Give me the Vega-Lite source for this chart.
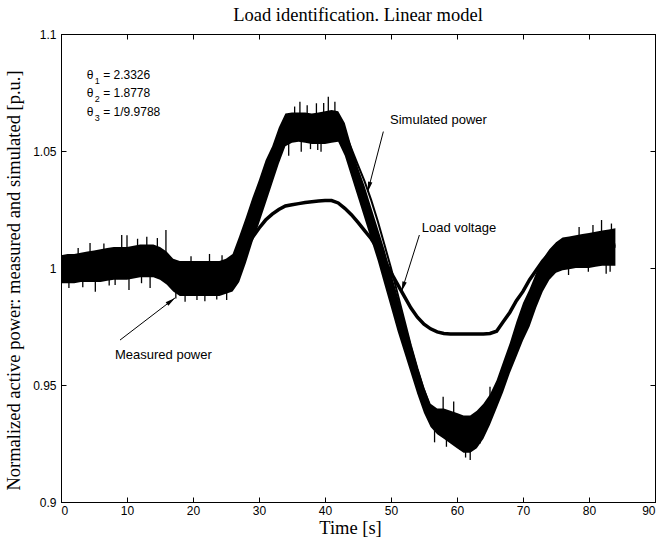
{
  "$schema": "https://vega.github.io/schema/vega-lite/v6.json",
  "width": 594,
  "height": 468,
  "autosize": "none",
  "padding": {"left": 61, "top": 34, "right": 10, "bottom": 38},
  "background": "white",
  "title": {"text": "Load identification. Linear model", "font": "Liberation Serif", "fontSize": 18.5, "fontWeight": "normal", "color": "black", "baseline": "alphabetic", "offset": 11, "dy": 22},
  "datasets": {
    "main": [
      {"t":0,"lo":0.9935,"hi":1.0055,"sim":1.000,"volt":1.000},
      {"t":1,"lo":0.9935,"hi":1.006,"sim":1.000,"volt":1.000},
      {"t":2,"lo":0.9935,"hi":1.006,"sim":1.000,"volt":1.000},
      {"t":3,"lo":0.994,"hi":1.0065,"sim":1.000,"volt":1.000},
      {"t":4,"lo":0.994,"hi":1.007,"sim":1.0005,"volt":1.0003},
      {"t":5,"lo":0.994,"hi":1.0075,"sim":1.001,"volt":1.0005},
      {"t":6,"lo":0.994,"hi":1.008,"sim":1.001,"volt":1.001},
      {"t":7,"lo":0.9945,"hi":1.0085,"sim":1.0015,"volt":1.001},
      {"t":8,"lo":0.995,"hi":1.009,"sim":1.002,"volt":1.0015},
      {"t":9,"lo":0.995,"hi":1.009,"sim":1.002,"volt":1.0015},
      {"t":10,"lo":0.995,"hi":1.009,"sim":1.002,"volt":1.002},
      {"t":11,"lo":0.9955,"hi":1.0095,"sim":1.0025,"volt":1.002},
      {"t":12,"lo":0.996,"hi":1.010,"sim":1.003,"volt":1.002},
      {"t":13,"lo":0.996,"hi":1.010,"sim":1.003,"volt":1.002},
      {"t":14,"lo":0.996,"hi":1.010,"sim":1.003,"volt":1.002},
      {"t":15,"lo":0.995,"hi":1.009,"sim":1.002,"volt":1.0015},
      {"t":16,"lo":0.993,"hi":1.007,"sim":1.000,"volt":1.000},
      {"t":17,"lo":0.990,"hi":1.004,"sim":0.997,"volt":0.998},
      {"t":18,"lo":0.988,"hi":1.003,"sim":0.9955,"volt":0.997},
      {"t":19,"lo":0.988,"hi":1.003,"sim":0.9955,"volt":0.997},
      {"t":20,"lo":0.988,"hi":1.003,"sim":0.9955,"volt":0.997},
      {"t":21,"lo":0.988,"hi":1.003,"sim":0.9955,"volt":0.997},
      {"t":22,"lo":0.988,"hi":1.003,"sim":0.9955,"volt":0.997},
      {"t":23,"lo":0.988,"hi":1.003,"sim":0.9955,"volt":0.997},
      {"t":24,"lo":0.988,"hi":1.003,"sim":0.9955,"volt":0.997},
      {"t":25,"lo":0.989,"hi":1.004,"sim":0.9965,"volt":0.998},
      {"t":26,"lo":0.990,"hi":1.006,"sim":0.998,"volt":1.000},
      {"t":27,"lo":0.994,"hi":1.0136,"sim":1.004,"volt":1.004},
      {"t":28,"lo":1.002,"hi":1.0216,"sim":1.012,"volt":1.0085},
      {"t":29,"lo":1.011,"hi":1.030,"sim":1.0205,"volt":1.013},
      {"t":30,"lo":1.019,"hi":1.0377,"sim":1.0285,"volt":1.017},
      {"t":31,"lo":1.0275,"hi":1.046,"sim":1.037,"volt":1.0205},
      {"t":32,"lo":1.036,"hi":1.052,"sim":1.044,"volt":1.023},
      {"t":33,"lo":1.0445,"hi":1.060,"sim":1.052,"volt":1.025},
      {"t":34,"lo":1.052,"hi":1.066,"sim":1.058,"volt":1.0265},
      {"t":35,"lo":1.0535,"hi":1.0665,"sim":1.060,"volt":1.027},
      {"t":36,"lo":1.054,"hi":1.0665,"sim":1.060,"volt":1.0275},
      {"t":37,"lo":1.0535,"hi":1.0665,"sim":1.060,"volt":1.028},
      {"t":38,"lo":1.053,"hi":1.066,"sim":1.0595,"volt":1.0283},
      {"t":39,"lo":1.053,"hi":1.0665,"sim":1.060,"volt":1.0286},
      {"t":40,"lo":1.053,"hi":1.067,"sim":1.060,"volt":1.0288},
      {"t":41,"lo":1.0535,"hi":1.0675,"sim":1.0605,"volt":1.0288},
      {"t":42,"lo":1.054,"hi":1.067,"sim":1.063,"volt":1.0278},
      {"t":43,"lo":1.048,"hi":1.062,"sim":1.058,"volt":1.0255},
      {"t":44,"lo":1.039,"hi":1.052,"sim":1.051,"volt":1.0228},
      {"t":45,"lo":1.030,"hi":1.043,"sim":1.044,"volt":1.0195},
      {"t":46,"lo":1.021,"hi":1.035,"sim":1.037,"volt":1.016},
      {"t":47,"lo":1.012,"hi":1.026,"sim":1.029,"volt":1.0125},
      {"t":48,"lo":1.003,"hi":1.017,"sim":1.020,"volt":1.008},
      {"t":49,"lo":0.993,"hi":1.008,"sim":1.010,"volt":1.0035},
      {"t":50,"lo":0.983,"hi":0.998,"sim":1.000,"volt":0.998},
      {"t":51,"lo":0.973,"hi":0.988,"sim":0.989,"volt":0.993},
      {"t":52,"lo":0.964,"hi":0.978,"sim":0.978,"volt":0.988},
      {"t":53,"lo":0.955,"hi":0.968,"sim":0.967,"volt":0.983},
      {"t":54,"lo":0.946,"hi":0.958,"sim":0.957,"volt":0.979},
      {"t":55,"lo":0.938,"hi":0.949,"sim":0.948,"volt":0.976},
      {"t":56,"lo":0.932,"hi":0.942,"sim":0.940,"volt":0.974},
      {"t":57,"lo":0.929,"hi":0.940,"sim":0.9355,"volt":0.9727},
      {"t":58,"lo":0.927,"hi":0.940,"sim":0.9335,"volt":0.972},
      {"t":59,"lo":0.925,"hi":0.939,"sim":0.932,"volt":0.9718},
      {"t":60,"lo":0.923,"hi":0.938,"sim":0.9305,"volt":0.9718},
      {"t":61,"lo":0.921,"hi":0.937,"sim":0.929,"volt":0.9718},
      {"t":62,"lo":0.921,"hi":0.937,"sim":0.929,"volt":0.9718},
      {"t":63,"lo":0.923,"hi":0.939,"sim":0.931,"volt":0.9718},
      {"t":64,"lo":0.927,"hi":0.942,"sim":0.9345,"volt":0.9718},
      {"t":65,"lo":0.933,"hi":0.946,"sim":0.9395,"volt":0.972},
      {"t":66,"lo":0.940,"hi":0.952,"sim":0.946,"volt":0.973},
      {"t":67,"lo":0.947,"hi":0.960,"sim":0.9535,"volt":0.977},
      {"t":68,"lo":0.955,"hi":0.968,"sim":0.9615,"volt":0.981},
      {"t":69,"lo":0.962,"hi":0.977,"sim":0.9695,"volt":0.986},
      {"t":70,"lo":0.969,"hi":0.985,"sim":0.977,"volt":0.990},
      {"t":71,"lo":0.975,"hi":0.991,"sim":0.983,"volt":0.995},
      {"t":72,"lo":0.983,"hi":0.998,"sim":0.9905,"volt":0.999},
      {"t":73,"lo":0.990,"hi":1.004,"sim":0.997,"volt":1.003},
      {"t":74,"lo":0.995,"hi":1.008,"sim":1.0015,"volt":1.006},
      {"t":75,"lo":0.998,"hi":1.011,"sim":1.0045,"volt":1.007},
      {"t":76,"lo":0.999,"hi":1.013,"sim":1.006,"volt":1.008},
      {"t":77,"lo":0.9995,"hi":1.0135,"sim":1.0065,"volt":1.008},
      {"t":78,"lo":1.000,"hi":1.014,"sim":1.007,"volt":1.0085},
      {"t":79,"lo":1.000,"hi":1.0145,"sim":1.007,"volt":1.009},
      {"t":80,"lo":1.000,"hi":1.015,"sim":1.0075,"volt":1.009},
      {"t":81,"lo":1.0005,"hi":1.0155,"sim":1.008,"volt":1.009},
      {"t":82,"lo":1.001,"hi":1.016,"sim":1.0085,"volt":1.0095},
      {"t":83,"lo":1.001,"hi":1.0165,"sim":1.009,"volt":1.0095},
      {"t":84,"lo":1.001,"hi":1.017,"sim":1.009,"volt":1.010}
    ],
    "spikes": [
      {"t":1.2,"a":0.9915,"b":1.0},{"t":2.6,"a":1.0085,"b":1.0},{"t":3.3,"a":0.9918,"b":1.0},
      {"t":4.4,"a":1.0107,"b":1.0},{"t":5.2,"a":0.9899,"b":1.0},{"t":6.5,"a":1.0105,"b":1.001},
      {"t":7.3,"a":0.9925,"b":1.001},{"t":8.2,"a":0.9927,"b":1.002},
      {"t":9.2,"a":1.0141,"b":1.002},{"t":10,"a":1.014,"b":1.002},{"t":10.3,"a":0.9906,"b":1.002},
      {"t":11.6,"a":1.0125,"b":1.003},{"t":12.2,"a":0.9935,"b":1.003},
      {"t":13,"a":1.0134,"b":1.003},{"t":13.5,"a":0.9915,"b":1.003},{"t":14.6,"a":1.0128,"b":1.003},
      {"t":15.9,"a":1.0162,"b":1.002},{"t":17.4,"a":0.987,"b":0.997},
      {"t":18.8,"a":0.9856,"b":0.9955},{"t":19.7,"a":1.005,"b":0.9955},{"t":20.6,"a":0.9863,"b":0.9955},
      {"t":21.8,"a":0.9858,"b":0.9955},{"t":22.5,"a":1.006,"b":0.9955},{"t":23.6,"a":0.9865,"b":0.9955},
      {"t":24.4,"a":1.0055,"b":0.9955},{"t":25.1,"a":0.9863,"b":0.997},
      {"t":36.2,"a":1.0711,"b":1.06},{"t":40.5,"a":1.0732,"b":1.06},{"t":41.5,"a":1.0711,"b":1.06},
      {"t":38.7,"a":1.0704,"b":1.06},{"t":37.3,"a":1.0695,"b":1.06},{"t":36.4,"a":1.0497,"b":1.06},
      {"t":38.9,"a":1.0504,"b":1.06},{"t":39.4,"a":1.0497,"b":1.06},{"t":34.5,"a":1.048,"b":1.058},
      {"t":35.4,"a":1.069,"b":1.06},{"t":39.8,"a":1.0705,"b":1.06},{"t":37.8,"a":1.0508,"b":1.06},
      {"t":62,"a":0.918,"b":0.929},{"t":60.5,"a":0.9222,"b":0.93},{"t":58.4,"a":0.9236,"b":0.933},
      {"t":63.5,"a":0.925,"b":0.932},{"t":61.3,"a":0.919,"b":0.929},{"t":65,"a":0.9493,"b":0.94},
      {"t":57.9,"a":0.945,"b":0.934},{"t":59.5,"a":0.943,"b":0.932},{"t":56.6,"a":0.9255,"b":0.936},
      {"t":81.9,"a":1.0205,"b":1.008},{"t":83.4,"a":1.019,"b":1.009},{"t":80.6,"a":1.0184,"b":1.0075},
      {"t":79.9,"a":0.9984,"b":1.0075},{"t":83.2,"a":0.9984,"b":1.009},{"t":76.9,"a":0.997,"b":1.006},
      {"t":78.5,"a":1.0175,"b":1.007},{"t":82.6,"a":0.9975,"b":1.008}
    ],
    "arrows": [
      {"t":8.94,"v":0.9692,"t2":17.27,"v2":0.9872,"ang":52.8},
      {"t":48.84,"v":1.0583,"t2":46.47,"v2":1.0326,"ang":194.6},
      {"t":54.3,"v":1.0141,"t2":51.6,"v2":0.990,"ang":197.7}
    ],
    "labels": [
      {"t":49.85,"v":1.0632,"label":"Simulated power"},
      {"t":54.65,"v":1.0172,"label":"Load voltage"},
      {"t":8.18,"v":0.9628,"label":"Measured power"}
    ],
    "theta": [
      {"t":3.89,"v":1.0825,"sub":"1","rest":"= 2.3326"},
      {"t":3.89,"v":1.0747,"sub":"2","rest":"= 1.8778"},
      {"t":3.89,"v":1.0668,"sub":"3","rest":"= 1/9.9788"}
    ]
  },
  "layer": [
    {
      "layer": [
        {
          "data": {"name": "main"},
          "mark": {"type": "area", "color": "black", "opacity": 1},
          "encoding": {
            "x": {"field": "t", "type": "quantitative", "scale": {"domain": [0, 90], "nice": false}, "axis": {"title": "Time [s]", "values": [0,10,20,30,40,50,60,70,80,90], "labelPadding": 8, "titleBaseline": "alphabetic", "titleY": 31, "titleX": 289}},
            "y": {"field": "lo", "type": "quantitative", "scale": {"domain": [0.9, 1.1], "nice": false, "zero": false}, "axis": {"title": "Normalized active power: measured and simulated [p.u.]", "values": [0.9,0.95,1,1.05,1.1], "format": "~g", "labelPadding": 10, "titleX": -48, "titleY": 246, "titleBaseline": "middle"}},
            "y2": {"field": "hi"}
          }
        },
        {
          "data": {"name": "main"},
          "mark": {"type": "line", "color": "black", "strokeWidth": 2},
          "encoding": {
            "x": {"field": "t", "type": "quantitative"},
            "y": {"field": "sim", "type": "quantitative"}
          }
        },
        {
          "data": {"name": "main"},
          "mark": {"type": "line", "color": "black", "strokeWidth": 3.5},
          "encoding": {
            "x": {"field": "t", "type": "quantitative"},
            "y": {"field": "volt", "type": "quantitative"}
          }
        },
        {
          "data": {"name": "spikes"},
          "mark": {"type": "rule", "color": "black", "strokeWidth": 1.3},
          "encoding": {
            "x": {"field": "t", "type": "quantitative"},
            "y": {"field": "a", "type": "quantitative"},
            "y2": {"field": "b"}
          }
        },
        {
          "data": {"name": "arrows"},
          "mark": {"type": "rule", "color": "black", "strokeWidth": 1},
          "encoding": {
            "x": {"field": "t", "type": "quantitative"},
            "y": {"field": "v", "type": "quantitative"},
            "x2": {"field": "t2"},
            "y2": {"field": "v2"}
          }
        },
        {
          "data": {"name": "arrows"},
          "mark": {"type": "point", "shape": "M0,0L-0.45,2L0.45,2Z", "filled": true, "color": "black", "opacity": 1, "size": 100},
          "encoding": {
            "x": {"field": "t2", "type": "quantitative"},
            "y": {"field": "v2", "type": "quantitative"},
            "angle": {"field": "ang", "type": "quantitative", "scale": null}
          }
        },
        {
          "data": {"name": "labels"},
          "mark": {"type": "text", "align": "left", "baseline": "middle", "font": "Liberation Sans", "fontSize": 13, "color": "black"},
          "encoding": {
            "x": {"field": "t", "type": "quantitative"},
            "y": {"field": "v", "type": "quantitative"},
            "text": {"field": "label"}
          }
        },
        {
          "data": {"name": "theta"},
          "mark": {"type": "text", "align": "left", "baseline": "middle", "font": "Liberation Sans", "fontSize": 12, "color": "black", "text": "θ"},
          "encoding": {
            "x": {"field": "t", "type": "quantitative"},
            "y": {"field": "v", "type": "quantitative"}
          }
        },
        {
          "data": {"name": "theta"},
          "mark": {"type": "text", "align": "left", "baseline": "middle", "font": "Liberation Sans", "fontSize": 9, "color": "black", "dx": 8, "dy": 6},
          "encoding": {
            "x": {"field": "t", "type": "quantitative"},
            "y": {"field": "v", "type": "quantitative"},
            "text": {"field": "sub"}
          }
        },
        {
          "data": {"name": "theta"},
          "mark": {"type": "text", "align": "left", "baseline": "middle", "font": "Liberation Sans", "fontSize": 12, "color": "black", "dx": 16.5},
          "encoding": {
            "x": {"field": "t", "type": "quantitative"},
            "y": {"field": "v", "type": "quantitative"},
            "text": {"field": "rest"}
          }
        }
      ]
    },
    {
      "data": {"name": "main"},
      "mark": {"type": "point", "opacity": 0},
      "encoding": {
        "x": {"field": "t", "type": "quantitative", "scale": {"domain": [0, 90], "nice": false}, "axis": {"orient": "top", "labels": false, "title": null, "values": [0,10,20,30,40,50,60,70,80,90]}},
        "y": {"field": "lo", "type": "quantitative", "scale": {"domain": [0.9, 1.1], "nice": false, "zero": false}, "axis": {"orient": "right", "labels": false, "title": null, "values": [0.9,0.95,1,1.05,1.1]}}
      }
    }
  ],
  "resolve": {"axis": {"x": "independent", "y": "independent"}},
  "config": {
    "view": {"stroke": "black", "strokeWidth": 1},
    "axis": {"grid": false, "domainColor": "black", "tickColor": "black", "labelColor": "black", "labelFont": "Liberation Sans", "labelFontSize": 12, "titleFont": "Liberation Serif", "titleFontSize": 18.5, "titleFontWeight": "normal", "titleColor": "black", "tickSize": -5}
  }
}
